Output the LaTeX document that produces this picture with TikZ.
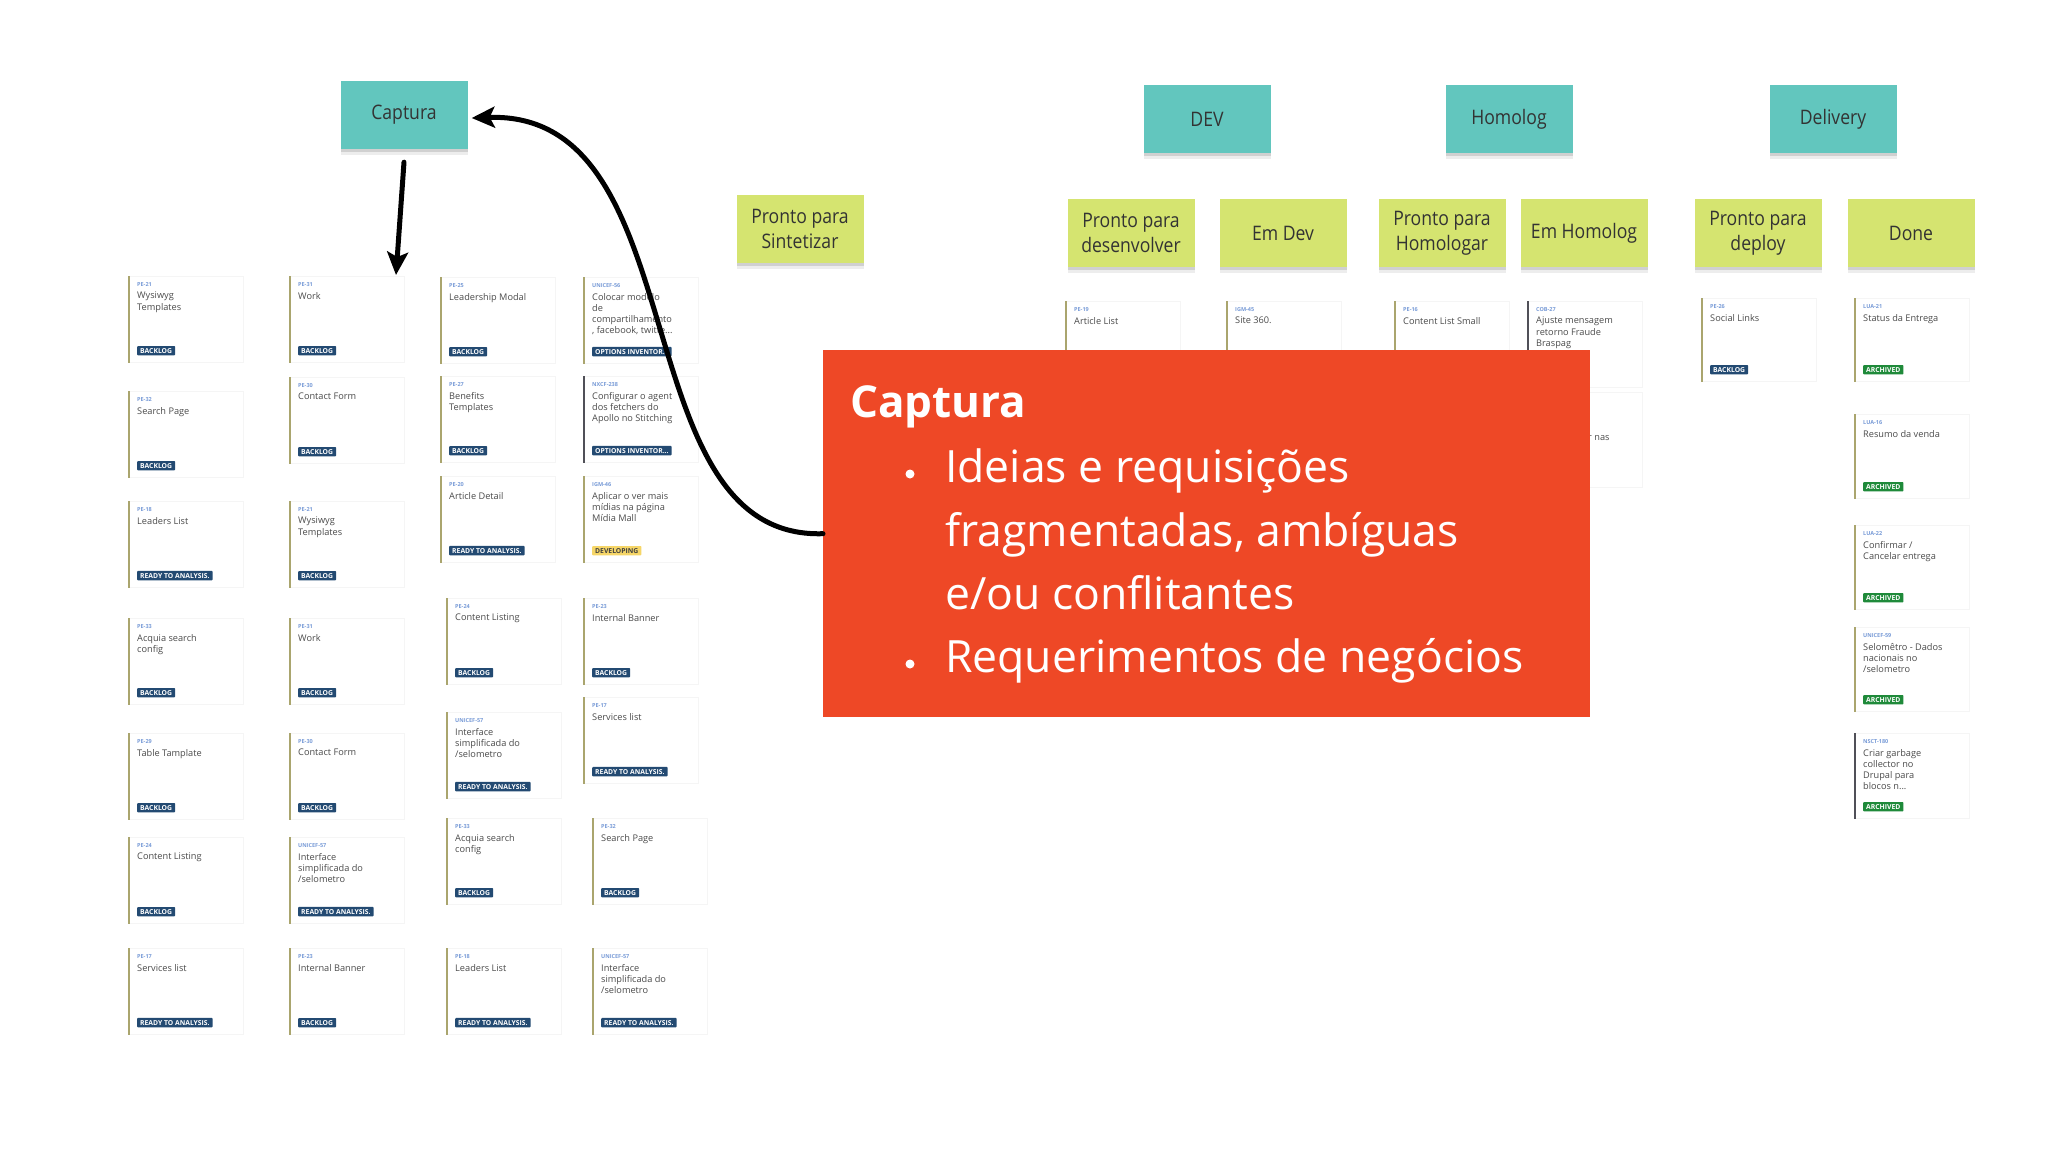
\documentclass[tikz,border=0pt]{standalone}
\usepackage{fontspec}
\setmainfont{Open Sans}
\newfontfamily\notefont[FakeStretch=0.88]{Open Sans}
\usetikzlibrary{arrows.meta}
\definecolor{teal1}{RGB}{98,198,190}
\definecolor{lime1}{RGB}{213,228,112}
\definecolor{redbox}{RGB}{238,72,38}
\definecolor{navy1}{RGB}{35,74,114}
\definecolor{archg}{RGB}{31,138,58}
\definecolor{devy}{RGB}{246,214,104}
\definecolor{olive1}{RGB}{170,165,110}
\definecolor{darkbar}{RGB}{80,80,88}
\definecolor{idblue}{RGB}{120,155,215}
\definecolor{ttl}{RGB}{75,75,75}
\tikzset{
  note/.style={minimum width=127pt, minimum height=68pt, inner sep=2pt, align=center,
    text=black!80, font=\notefont\fontsize{20}{25}\selectfont,
    preaction={fill=black, opacity=0.07, transform canvas={yshift=-6pt}},
    preaction={fill=black, opacity=0.12, transform canvas={yshift=-3pt}}},
  tnote/.style={note, fill=teal1},
  gnote/.style={note, fill=lime1},
  cardbox/.style={draw=black!4, fill=white, minimum width=114pt, inner sep=0, anchor=north west, line width=0.6pt},
  ctitle/.style={inner sep=0, anchor=north west, align=left, text=ttl, font=\fontsize{9.2}{11.2}\selectfont},
  cid/.style={inner sep=0, anchor=north west, text=idblue, font=\fontsize{5.5}{6}\selectfont\bfseries},
  bdg/.style={fill=navy1, text=white, font=\fontsize{6.8}{7.5}\selectfont\bfseries, inner xsep=3pt, inner ysep=2.2pt, rounded corners=0.8pt, anchor=south west},
  bdga/.style={bdg, fill=archg},
  bdgd/.style={bdg, fill=devy, text=black!75},
  arr/.style={line width=5pt, line cap=round, -{Stealth[length=23pt,width=21pt,inset=5pt]}},
  redtxt/.style={inner sep=0, anchor=base west, text=white, font=\fontsize{44.5}{52}\selectfont},
  dot/.style={circle, fill=white, inner sep=0, minimum size=9pt}
}
% name, x, top, height, id, title, badge style, badge text, bar colour
\newcommand\kcard[9]{%
  \node[cardbox, minimum height=#4pt] (#1) at (#2,#3) {};
  \draw[line width=2pt, draw=#9] (#1.north west) -- (#1.south west);
  \node[cid] (#1-id) at ([xshift=8pt,yshift=-6pt]#1.north west) {#5};
  \node[ctitle] (#1-t) at ([xshift=8pt,yshift=-16pt]#1.north west) {#6};
  \node[#7] (#1-b) at ([xshift=8pt,yshift=7pt]#1.south west) {#8};
}
\begin{document}
\begin{tikzpicture}[x=1pt,y=-1pt]
\fill[white] (0,0) rectangle (2048,1152);
\useasboundingbox (0,0) rectangle (2048,1152);

% sticky notes
\node[tnote] (cap) at (404,115) {Captura};
\node[tnote] (dev) at (1207,119) {DEV};
\node[tnote] (hom) at (1509,119) {Homolog};
\node[tnote] (del) at (1833,119) {Delivery};
\node[gnote] (sint) at (800,229) {Pronto para\\Sintetizar};
\node[gnote] (pdes) at (1131,233) {Pronto para\\desenvolver};
\node[gnote] (emdev) at (1283,233) {Em Dev};
\node[gnote] (phom) at (1442,233) {Pronto para\\Homologar};
\node[gnote] (emhom) at (1584,233) {Em Homolog};
\node[gnote] (pdep) at (1758,233) {Pronto para\\deploy};
\node[gnote] (done) at (1911,233) {Done};

% column 1
\kcard{a1}{129}{276}{86}{PE-21}{Wysiwyg\\Templates}{bdg}{BACKLOG}{olive1}
\kcard{a2}{129}{391}{86}{PE-32}{Search Page}{bdg}{BACKLOG}{olive1}
\kcard{a3}{129}{501}{86}{PE-18}{Leaders List}{bdg}{READY TO ANALYSIS.}{olive1}
\kcard{a4}{129}{618}{86}{PE-33}{Acquia search\\config}{bdg}{BACKLOG}{olive1}
\kcard{a5}{129}{733}{86}{PE-29}{Table Tamplate}{bdg}{BACKLOG}{olive1}
\kcard{a6}{129}{837}{86}{PE-24}{Content Listing}{bdg}{BACKLOG}{olive1}
\kcard{a7}{129}{948}{86}{PE-17}{Services list}{bdg}{READY TO ANALYSIS.}{olive1}
% column 2
\kcard{b1}{290}{276}{86}{PE-31}{Work}{bdg}{BACKLOG}{olive1}
\kcard{b2}{290}{377}{86}{PE-30}{Contact Form}{bdg}{BACKLOG}{olive1}
\kcard{b3}{290}{501}{86}{PE-21}{Wysiwyg\\Templates}{bdg}{BACKLOG}{olive1}
\kcard{b4}{290}{618}{86}{PE-31}{Work}{bdg}{BACKLOG}{olive1}
\kcard{b5}{290}{733}{86}{PE-30}{Contact Form}{bdg}{BACKLOG}{olive1}
\kcard{b6}{290}{837}{86}{UNICEF-57}{Interface\\simplificada do\\/selometro}{bdg}{READY TO ANALYSIS.}{olive1}
\kcard{b7}{290}{948}{86}{PE-23}{Internal Banner}{bdg}{BACKLOG}{olive1}
% column 3
\kcard{c1}{441}{277}{86}{PE-25}{Leadership Modal}{bdg}{BACKLOG}{olive1}
\kcard{c2}{441}{376}{86}{PE-27}{Benefits\\Templates}{bdg}{BACKLOG}{olive1}
\kcard{c3}{441}{476}{86}{PE-20}{Article Detail}{bdg}{READY TO ANALYSIS.}{olive1}
\kcard{c4}{447}{598}{86}{PE-24}{Content Listing}{bdg}{BACKLOG}{olive1}
\kcard{c5}{447}{712}{86}{UNICEF-57}{Interface\\simplificada do\\/selometro}{bdg}{READY TO ANALYSIS.}{olive1}
\kcard{c6}{447}{818}{86}{PE-33}{Acquia search\\config}{bdg}{BACKLOG}{olive1}
\kcard{c7}{447}{948}{86}{PE-18}{Leaders List}{bdg}{READY TO ANALYSIS.}{olive1}
% column 4
\kcard{d1}{584}{277}{86}{UNICEF-56}{Colocar modelo\\de\\compartilhamento\\, facebook, twitte...}{bdg}{OPTIONS INVENTOR...}{olive1}
\kcard{d2}{584}{376}{86}{NXCF-238}{Configurar o agent\\dos fetchers do\\Apollo no Stitching}{bdg}{OPTIONS INVENTOR...}{darkbar}
\kcard{d3}{584}{476}{86}{IGM-46}{Aplicar o ver mais\\mídias na página\\Mídia Mall}{bdgd}{DEVELOPING}{olive1}
\kcard{d4}{584}{598}{86}{PE-23}{Internal Banner}{bdg}{BACKLOG}{olive1}
\kcard{d5}{584}{697}{86}{PE-17}{Services list}{bdg}{READY TO ANALYSIS.}{olive1}
\kcard{d6}{593}{818}{86}{PE-32}{Search Page}{bdg}{BACKLOG}{olive1}
\kcard{d7}{593}{948}{86}{UNICEF-57}{Interface\\simplificada do\\/selometro}{bdg}{READY TO ANALYSIS.}{olive1}

% DEV / Homolog cards (mostly covered)
\kcard{e1}{1066}{301}{86}{PE-19}{Article List}{bdg}{BACKLOG}{olive1}
\kcard{e2}{1227}{301}{86}{IGM-45}{Site 360.}{bdg}{BACKLOG}{olive1}
\kcard{e3}{1395}{301}{86}{PE-16}{Content List Small}{bdg}{BACKLOG}{olive1}
\kcard{e4}{1528}{301}{86}{COB-27}{Ajuste mensagem\\retorno Fraude\\Braspag}{bdg}{BACKLOG}{darkbar}
\node[cardbox, minimum height=95pt] (e5) at (1528,392) {};
\node[ctitle, anchor=base west] (e5-t) at (1588,440) {r nas};

% Delivery cards
\kcard{f1}{1702}{298}{83}{PE-26}{Social Links}{bdg}{BACKLOG}{olive1}
\kcard{g1}{1855}{298}{83}{LUA-21}{Status da Entrega}{bdga}{ARCHIVED}{olive1}
\kcard{g2}{1855}{414}{84}{LUA-16}{Resumo da venda}{bdga}{ARCHIVED}{olive1}
\kcard{g3}{1855}{525}{84}{LUA-22}{Confirmar /\\Cancelar entrega}{bdga}{ARCHIVED}{olive1}
\kcard{g4}{1855}{627}{84}{UNICEF-59}{Selomêtro - Dados\\nacionais no\\/selometro}{bdga}{ARCHIVED}{olive1}
\kcard{g5}{1855}{733}{85}{NSCT-180}{Criar garbage\\collector no\\Drupal para\\blocos n...}{bdga}{ARCHIVED}{darkbar}

% red callout
\node[fill=redbox, minimum width=767pt, minimum height=367pt, anchor=north west, inner sep=0] (red) at (823,350) {};
\node[redtxt, font=\fontsize{44}{50}\selectfont\bfseries] (redt) at (850,417) {Captura};
\node[dot] (bul1) at (910,474) {};
\node[redtxt] (l1) at (945,482) {Ideias e requisições};
\node[redtxt] (l2) at (945,546) {fragmentadas, ambíguas};
\node[redtxt] (l3) at (945,609) {e/ou conflitantes};
\node[dot] (bul2) at (910,664) {};
\node[redtxt] (l4) at (945,672) {Requerimentos de negócios};

% arrows
\coordinate (capin) at (396,275);
\draw[arr] ([yshift=-13pt]cap.south) -- (capin);
\draw[arr] (red.west) .. controls (620,540) and (700,110) .. ([xshift=4pt,yshift=-3pt]cap.east);
\end{tikzpicture}
\end{document}
